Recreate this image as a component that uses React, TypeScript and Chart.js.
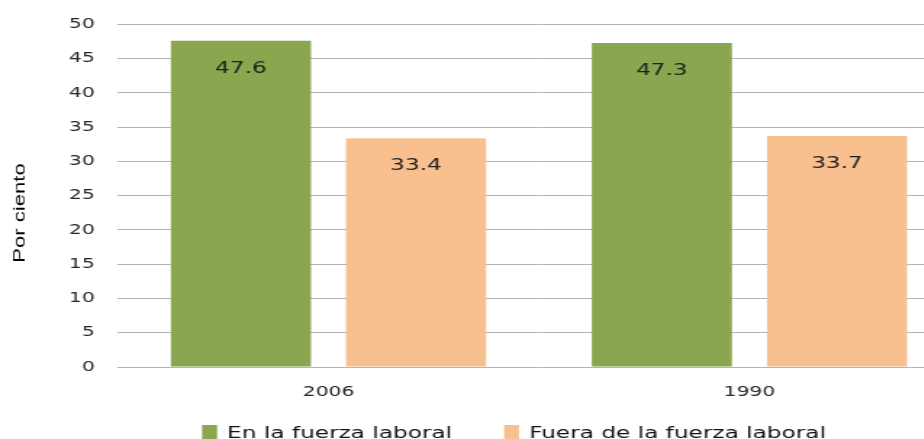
import React, { useEffect, useRef } from "react";
import { Chart, registerables } from "chart.js";

Chart.register(...registerables);

// ---- data ----
const categories = ["2006", "1990"];
const seriesNames = ["En la fuerza laboral", "Fuera de la fuerza laboral"];
const inLaborForce = [47.6, 47.3];
const outLaborForce = [33.4, 33.7];
const yMin = 0;
const yMax = 50;
const yStep = 5;
const yTitle = "Por ciento";

// ---- styling / layout ----
const SX = 1.45; // horizontal stretch of the whole picture
const W = 924;
const H = 439;
const LW = 662; // logical canvas width (displayed LW * SX, clipped at W)
const GREEN = "#8aa64f";
const PEACH = "#f9c08f";
const TEXT = "#262626";
const FONT = '"DejaVu Sans", Verdana, sans-serif';

const dataLabelPlugin = {
  id: "dataLabels",
  afterDatasetsDraw(chart: any) {
    const ctx = chart.ctx;
    ctx.save();
    ctx.font = `16px ${FONT}`;
    ctx.fillStyle = "#1f1f1f";
    ctx.textAlign = "center";
    ctx.textBaseline = "alphabetic";
    chart.data.datasets.forEach((ds: any, di: number) => {
      chart.getDatasetMeta(di).data.forEach((bar: any, i: number) => {
        const v = ds.data[i] as number;
        ctx.fillText(v.toFixed(1), bar.x, bar.y + 32);
      });
    });
    ctx.restore();
  },
};

const titleLegendPlugin = {
  id: "titleLegend",
  afterDraw(chart: any) {
    const ctx = chart.ctx;
    // y-axis title (undo horizontal stretch, stretch along its length)
    ctx.save();
    ctx.translate(25 / SX, 213);
    ctx.scale(1 / SX, 1);
    ctx.rotate(-Math.PI / 2);
    ctx.scale(1.3, 1);
    ctx.font = '17px "Liberation Sans", Arial, sans-serif';
    ctx.fillStyle = "#000";
    ctx.textAlign = "center";
    ctx.textBaseline = "alphabetic";
    ctx.fillText(yTitle, 0, 0);
    ctx.restore();

    // legend
    ctx.save();
    ctx.font = `16px ${FONT}`;
    ctx.textAlign = "left";
    ctx.textBaseline = "alphabetic";
    const box = 15 / SX;
    const gap = 10 / SX;
    const itemGap = 52 / SX;
    const colors = [GREEN, PEACH];
    const widths = seriesNames.map((n) => ctx.measureText(n).width);
    const total =
      widths.reduce((a, w) => a + box + gap + w, 0) + itemGap * (seriesNames.length - 1);
    let x = 514 / SX - total / 2;
    seriesNames.forEach((name, i) => {
      ctx.fillStyle = colors[i];
      ctx.fillRect(x, 425, box, 15);
      ctx.fillStyle = "#111";
      ctx.fillText(name, x + box + gap, 437.5);
      x += box + gap + widths[i] + itemGap;
    });
    ctx.restore();
  },
};

export default function App() {
  const ref = useRef<HTMLCanvasElement>(null);

  useEffect(() => {
    const canvas = ref.current!;
    const chart = new Chart(canvas, {
      type: "bar",
      data: {
        labels: categories,
        datasets: [
          {
            label: seriesNames[0],
            data: inLaborForce,
            backgroundColor: GREEN,
            borderWidth: 0,
            categoryPercentage: 0.832,
            barPercentage: 0.8,
          },
          {
            label: seriesNames[1],
            data: outLaborForce,
            backgroundColor: PEACH,
            borderWidth: 0,
            categoryPercentage: 0.832,
            barPercentage: 0.8,
          },
        ],
      },
      options: {
        animation: false,
        responsive: false,
        devicePixelRatio: 1,
        layout: { padding: { top: 23, left: 0, right: 0, bottom: 0 } },
        plugins: {
          legend: { display: false },
          tooltip: { enabled: false },
        },
        scales: {
          x: {
            grid: { display: false, drawTicks: false },
            border: { display: false },
            ticks: {
              font: { family: FONT, size: 14 },
              color: TEXT,
              padding: 17,
            },
            afterFit: (s: any) => {
              s.height = 72;
            },
          },
          y: {
            min: yMin,
            max: yMax,
            ticks: {
              stepSize: yStep,
              font: { family: FONT, size: 14 },
              color: TEXT,
              padding: 16,
            },
            grid: { color: "#b4b4b4", lineWidth: 1, drawTicks: false },
            border: { display: false },
            afterFit: (s: any) => {
              s.width = 118 / SX;
            },
          },
        },
      },
      plugins: [dataLabelPlugin, titleLegendPlugin],
    } as any);
    return () => chart.destroy();
  }, []);

  return (
    <div
      style={{
        position: "fixed",
        left: 0,
        top: 0,
        width: W,
        height: H,
        overflow: "hidden",
        background: "#fff",
      }}
    >
      <div
        style={{
          width: LW,
          height: H,
          transform: `scaleX(${SX})`,
          transformOrigin: "0 0",
        }}
      >
        <canvas
          ref={ref}
          width={LW}
          height={H}
          style={{ display: "block", width: LW, height: H }}
        />
      </div>
    </div>
  );
}
